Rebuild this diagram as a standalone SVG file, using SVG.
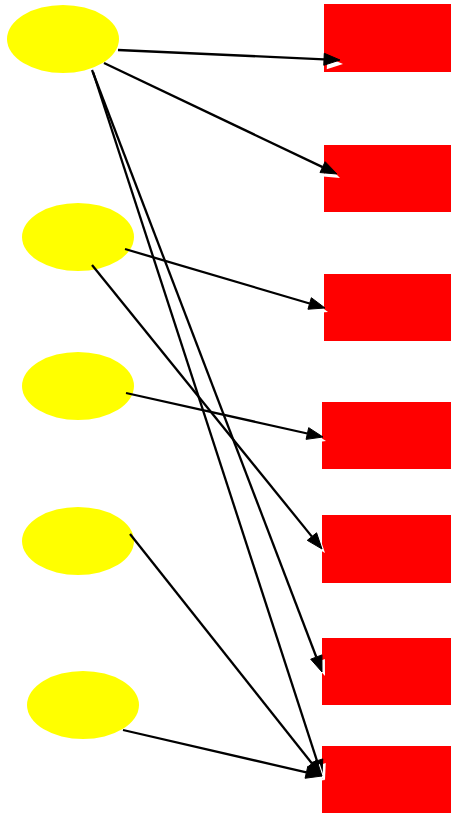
<svg xmlns="http://www.w3.org/2000/svg" xmlns:xlink="http://www.w3.org/1999/xlink" width="451" height="814" viewBox="0 0 451 814">
  <style>
    .src { fill: #ffff00; stroke: none; }
    .dst { fill: #ff0000; stroke: none; }
    .edge line { stroke: #000; stroke-width: 2.3; fill: none; }
    .edge .halo { fill: #fff; }
    .edge .head { fill: #000; stroke: #000; stroke-width: 1; stroke-linejoin: miter; }
  </style>
  <rect width="451" height="814" fill="#fff"/>

  <!-- source nodes -->
  <g id="s1"><ellipse class="src" cx="63" cy="39" rx="56" ry="34"/></g>
  <g id="s2"><ellipse class="src" cx="78" cy="237" rx="56" ry="34"/></g>
  <g id="s3"><ellipse class="src" cx="78" cy="386" rx="56" ry="34"/></g>
  <g id="s4"><ellipse class="src" cx="78" cy="541" rx="56" ry="34"/></g>
  <g id="s5"><ellipse class="src" cx="83" cy="705" rx="56" ry="34"/></g>

  <!-- target nodes -->
  <g id="t1"><rect class="dst" x="324" y="4" width="127" height="68"/></g>
  <g id="t2"><rect class="dst" x="324" y="145" width="127" height="67"/></g>
  <g id="t3"><rect class="dst" x="324" y="274" width="127" height="67"/></g>
  <g id="t4"><rect class="dst" x="322" y="402" width="129" height="67"/></g>
  <g id="t5"><rect class="dst" x="322" y="515" width="129" height="68"/></g>
  <g id="t6"><rect class="dst" x="322" y="638" width="129" height="67"/></g>
  <g id="t7"><rect class="dst" x="322" y="746" width="129" height="67"/></g>

  <!-- connectors -->
  <g id="edges" class="edge">
    <!-- s1 -> t1 -->
    <line x1="118" y1="50" x2="324" y2="59.3"/>
    <polygon class="halo" points="343,64 326.75,69.27 327.29,57.29"/>
    <polygon class="head" points="340,60 323.75,65.27 324.29,53.29"/>
    <!-- s1 -> t2 -->
    <line x1="104" y1="63" x2="322.6" y2="167.1"/>
    <polygon class="halo" points="340,178 322.98,176.54 328.14,165.70"/>
    <polygon class="head" points="337,174 319.98,172.54 325.14,161.70"/>
    <!-- s1 -> t6 -->
    <line x1="92" y1="70" x2="316.3" y2="657"/>
    <polygon class="halo" points="325,676 313.68,663.19 324.90,658.91"/>
    <polygon class="head" points="322,672 310.68,659.19 321.90,654.91"/>
    <!-- s1 -> t7 -->
    <line x1="93" y1="72" x2="317" y2="760.8"/>
    <polygon class="halo" points="325,780 314.34,766.64 325.76,762.92"/>
    <polygon class="head" points="322,776 311.34,762.64 322.76,758.92"/>
    <!-- s2 -> t3 -->
    <line x1="125" y1="249" x2="309.6" y2="303.5"/>
    <polygon class="halo" points="328,312 310.95,313.23 314.35,301.71"/>
    <polygon class="head" points="325,308 307.95,309.23 311.35,297.71"/>
    <!-- s2 -> t5 -->
    <line x1="92" y1="265" x2="311.9" y2="536.6"/>
    <polygon class="halo" points="325,553 310.27,544.35 319.59,536.79"/>
    <polygon class="head" points="322,549 307.27,540.35 316.59,532.79"/>
    <!-- s3 -> t4 -->
    <line x1="126" y1="393" x2="307.4" y2="433.5"/>
    <polygon class="halo" points="326,441 309.07,443.37 311.69,431.65"/>
    <polygon class="head" points="323,437 306.07,439.37 308.69,427.65"/>
    <!-- s4 -> t7 -->
    <line x1="130" y1="534" x2="312" y2="763.5"/>
    <polygon class="halo" points="325,780 310.35,771.20 319.75,763.74"/>
    <polygon class="head" points="322,776 307.35,767.20 316.75,759.74"/>
    <!-- s5 -> t7 -->
    <line x1="123" y1="730" x2="306.4" y2="772.4"/>
    <polygon class="halo" points="325,780 308.06,782.25 310.76,770.55"/>
    <polygon class="head" points="322,776 305.06,778.25 307.76,766.55"/>
  </g>
</svg>
